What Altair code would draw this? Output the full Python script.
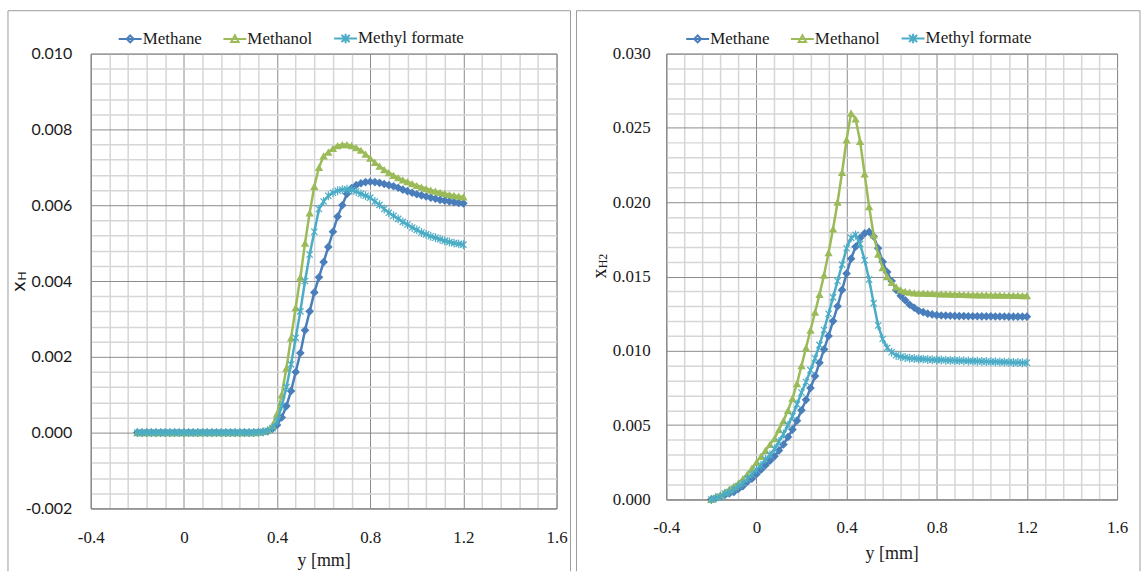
import altair as alt
import pandas as pd

SERIES = ["Methane", "Methanol", "Methyl formate"]
COLORS = ["#4a7ebb", "#9bbb59", "#4bacc6"]

Y_MM = [-0.2, -0.18, -0.16, -0.14, -0.12, -0.1, -0.08, -0.06, -0.04, -0.02,
        0.0, 0.02, 0.04, 0.06, 0.08, 0.1, 0.12, 0.14, 0.16, 0.18,
        0.2, 0.22, 0.24, 0.26, 0.28, 0.3, 0.32, 0.34, 0.36, 0.38,
        0.4, 0.42, 0.44, 0.46, 0.48, 0.5, 0.52, 0.54, 0.56, 0.58,
        0.6, 0.62, 0.64, 0.66, 0.68, 0.7, 0.72, 0.74, 0.76, 0.78,
        0.8, 0.82, 0.84, 0.86, 0.88, 0.9, 0.92, 0.94, 0.96, 0.98,
        1.0, 1.02, 1.04, 1.06, 1.08, 1.1, 1.12, 1.14, 1.16, 1.18, 1.2]

# Left panel: x_H
XH_METHANE = [0, 0, 0, 0, 0, 0, 0, 0, 0, 0,
              0, 0, 0, 0, 0, 0, 0, 0, 0, 0,
              0, 0, 0, 0, 0, 0, 0.00001, 0.00002, 0.00004, 0.0001,
              0.0002, 0.0004, 0.0007, 0.0011, 0.0016, 0.0021, 0.0027, 0.0032, 0.0037, 0.0041,
              0.0045, 0.0049, 0.0053, 0.0057, 0.0060, 0.0063, 0.00645, 0.00653, 0.00658, 0.00661,
              0.00662, 0.00661, 0.00659, 0.00656, 0.00653, 0.0065, 0.00646, 0.00641, 0.00637, 0.00633,
              0.00629, 0.00626, 0.00623, 0.0062, 0.00617, 0.00614, 0.00612, 0.0061, 0.00608, 0.00606, 0.00605]
XH_METHANOL = [0, 0, 0, 0, 0, 0, 0, 0, 0, 0,
               0, 0, 0, 0, 0, 0, 0, 0, 0, 0,
               0, 0, 0, 0, 0, 0, 0.00001, 0.00003, 0.00008, 0.0002,
               0.0005, 0.0010, 0.0017, 0.0025, 0.0033, 0.0041, 0.0050, 0.0058, 0.0065, 0.0070,
               0.0073, 0.0074, 0.0075, 0.00757, 0.0076, 0.0076, 0.00757, 0.00752, 0.00745, 0.00735,
               0.00724, 0.00713, 0.00703, 0.00694, 0.00686, 0.00679, 0.00673, 0.00667, 0.00662, 0.00657,
               0.00652, 0.00648, 0.00644, 0.0064, 0.00637, 0.00634, 0.00631, 0.00628, 0.00626, 0.00624, 0.00622]
XH_MF = [0, 0, 0, 0, 0, 0, 0, 0, 0, 0,
         0, 0, 0, 0, 0, 0, 0, 0, 0, 0,
         0, 0, 0, 0, 0, 0, 0.00001, 0.00002, 0.00005, 0.00012,
         0.0003, 0.0007, 0.0012, 0.0018, 0.0025, 0.0032, 0.0040, 0.0047, 0.0053, 0.0059,
         0.0061, 0.00625, 0.00633, 0.00638, 0.00641, 0.00642, 0.0064, 0.00636, 0.0063, 0.00625,
         0.0062, 0.0061, 0.00601, 0.0059, 0.0058, 0.00572, 0.00564, 0.00556, 0.00549, 0.00541,
         0.00535, 0.00528, 0.00523, 0.00518, 0.00514, 0.0051, 0.00506, 0.00503, 0.005, 0.00498, 0.00496]

# Right panel: x_H2
XH2_METHANE = [0.0, 0.0001, 0.0002, 0.0003, 0.0004, 0.0005, 0.0007, 0.0009, 0.0012, 0.0014,
               0.0017, 0.0020, 0.0023, 0.0026, 0.0029, 0.0033, 0.0037, 0.0042, 0.0047, 0.0053,
               0.0060, 0.0067, 0.0075, 0.0083, 0.0092, 0.0101, 0.0110, 0.0120, 0.0130, 0.0141,
               0.0152, 0.0162, 0.0170, 0.0176, 0.0179, 0.0180, 0.0177, 0.0169, 0.0160, 0.0153,
               0.0147, 0.0141, 0.0137, 0.0134, 0.0131, 0.0129, 0.0127, 0.0126, 0.0125, 0.01245,
               0.0124, 0.01238, 0.01237, 0.01236, 0.01235, 0.01234, 0.01234, 0.01233, 0.01233, 0.01233,
               0.01232, 0.01232, 0.01232, 0.01231, 0.01231, 0.01231, 0.0123, 0.0123, 0.0123, 0.0123, 0.0123]
XH2_METHANOL = [0.0, 0.0002, 0.0003, 0.0005, 0.0007, 0.0009, 0.0011, 0.0014, 0.0017, 0.0021,
                0.0025, 0.0029, 0.0033, 0.0037, 0.0041, 0.0047, 0.0053, 0.0060, 0.0068, 0.0078,
                0.0090, 0.0102, 0.0114, 0.0126, 0.0138, 0.0151, 0.0166, 0.0182, 0.0200, 0.0220,
                0.0242, 0.0260, 0.0256, 0.0241, 0.0219, 0.0197, 0.0178, 0.0165, 0.0156, 0.0150,
                0.0146, 0.0143, 0.0141, 0.0140, 0.01395, 0.0139, 0.01389, 0.01388, 0.01387, 0.01386,
                0.01385, 0.01384, 0.01383, 0.01382, 0.01381, 0.0138, 0.01379, 0.01378, 0.01378, 0.01377,
                0.01377, 0.01376, 0.01376, 0.01375, 0.01375, 0.01374, 0.01374, 0.01373, 0.01373, 0.01372, 0.01372]
XH2_MF = [0.0, 0.0001, 0.0002, 0.0004, 0.0005, 0.0007, 0.0009, 0.0011, 0.0014, 0.0017,
          0.0020, 0.0023, 0.0027, 0.0030, 0.0034, 0.0039, 0.0044, 0.0050, 0.0056, 0.0064,
          0.0072, 0.0079, 0.0087, 0.0095, 0.0104, 0.0114, 0.0125, 0.0136, 0.0147, 0.0158,
          0.0169, 0.0176, 0.0178, 0.0172, 0.0161, 0.0148, 0.0132, 0.0117, 0.0108, 0.0102,
          0.0099, 0.0097, 0.0096, 0.00955, 0.0095, 0.00948, 0.00946, 0.00944, 0.00942, 0.0094,
          0.00939, 0.00938, 0.00937, 0.00936, 0.00935, 0.00934, 0.00933, 0.00932, 0.00931, 0.0093,
          0.00929, 0.00928, 0.00927, 0.00926, 0.00925, 0.00924, 0.00923, 0.00922, 0.00921, 0.0092, 0.0092]

X_DOMAIN = [-0.4, 1.6]
X_MAJOR_STEP = 0.4
X_MINOR = [round(-0.4 + 0.08 * i, 2) for i in range(26)]
YH_DOMAIN = [-0.002, 0.010]
YH_MINOR = [round(-0.002 + 0.0004 * i, 4) for i in range(31)]
YH2_DOMAIN = [0.0, 0.030]
YH2_MINOR = [round(0.001 * i, 3) for i in range(31)]

SERIF = "Liberation Serif"
SANS = "Lato"
TXT = "#1a1a1a"
GRID_MAJOR = "#8c8c8c"
GRID_MINOR = "#d6d6d6"
FRAME = "#9c9c9c"

ASTERISK = "M-0.7,-0.7L0.7,0.7M-0.7,0.7L0.7,-0.7M0,-1L0,1"
MARKERS = [("diamond", True, 75), ("triangle-up", True, 70), (ASTERISK, False, 80)]
LEGEND_PATHS = [
    "M-1,0L1,0M0,-0.3L0.3,0L0,0.3L-0.3,0Z",
    "M-1,0L1,0M0,-0.32L0.32,0.26L-0.32,0.26Z",
    "M-1,0L1,0M-0.36,-0.3L0.36,0.3M-0.36,0.3L0.36,-0.3M0,-0.42L0,0.42",
]


def table(series_values):
    rows = []
    for name, vals in zip(SERIES, series_values):
        for x, v in zip(Y_MM, vals):
            rows.append({"y_mm": x, "value": v, "Series": name})
    return pd.DataFrame(rows)


def is_major(mult):
    return f"abs(datum.value*{mult} - round(datum.value*{mult})) < 1e-6"


def panel(series_values, ydomain, yminor, ymult, yfont, yfontsize, ylabelpad,
          width, height, xlabelpad, xtitley, ytitle_font, ytitle_x, ytitle_y,
          sub_text, sub_x, sub_y, leg_x, leg_y, frame):
    df = table(series_values)
    xscale = alt.Scale(domain=X_DOMAIN, nice=False, zero=False)
    yscale = alt.Scale(domain=ydomain, nice=False, zero=False)
    xm = is_major(round(1 / X_MAJOR_STEP, 6))
    ym = is_major(ymult)
    xaxis = alt.Axis(
        values=X_MINOR,
        labelExpr=f"{xm} ? ((datum.value < -1e-9 ? '-' : '') + format(abs(datum.value), '~g')) : ''",
        grid=True,
        gridColor={"condition": {"test": xm, "value": GRID_MAJOR}, "value": GRID_MINOR},
        gridWidth={"condition": {"test": xm, "value": 1}, "value": 1.5},
        ticks=False, tickSize=0, domainColor=GRID_MAJOR,
        labelFont=SERIF, labelFontSize=17, labelColor=TXT, labelPadding=xlabelpad,
        labelBaseline="middle", labelOverlap=False, labelFlush=False,
        title="y [mm]", titleFont=SERIF, titleFontSize=18, titleFontWeight="normal",
        titleColor=TXT, titleY=xtitley, titleBaseline="middle",
    )
    yaxis = alt.Axis(
        values=yminor,
        labelExpr=f"{ym} ? ((datum.value < -1e-9 ? '-' : '') + format(abs(datum.value), '.3f')) : ''",
        grid=True,
        gridColor={"condition": {"test": ym, "value": GRID_MAJOR}, "value": GRID_MINOR},
        gridWidth={"condition": {"test": ym, "value": 1}, "value": 1.5},
        ticks=False, tickSize=0, domainColor=GRID_MAJOR,
        labelFont=yfont, labelFontSize=yfontsize, labelColor=TXT, labelPadding=ylabelpad,
        labelOverlap=False, labelFlush=False,
        title="x", titleFont=ytitle_font, titleFontSize=20, titleFontWeight="normal",
        titleColor=TXT, titleAngle=270, titleX=ytitle_x, titleY=ytitle_y,
        titleAlign="center", titleBaseline="middle",
    )
    enc = dict(x=alt.X("y_mm:Q", scale=xscale, axis=xaxis),
               y=alt.Y("value:Q", scale=yscale, axis=yaxis))

    l, r, t, b = frame
    one = pd.DataFrame({"k": [0]})
    layers = [
        alt.Chart(one).mark_rule(color=FRAME, strokeWidth=1).encode(
            x=alt.value(l), y=alt.value(t), y2=alt.value(b)),
        alt.Chart(one).mark_rule(color=FRAME, strokeWidth=1).encode(
            x=alt.value(r), y=alt.value(t), y2=alt.value(b)),
        alt.Chart(one).mark_rule(color=FRAME, strokeWidth=1).encode(
            x=alt.value(l), x2=alt.value(r), y=alt.value(t)),
    ]
    for name, color, (shape, filled, size) in zip(SERIES, COLORS, MARKERS):
        base = alt.Chart(df).transform_filter(alt.datum.Series == name)
        layers.append(base.mark_line(color=color, strokeWidth=2.5).encode(**enc))
        layers.append(base.mark_point(shape=shape, filled=filled, size=size, color=color,
                                      opacity=1, strokeWidth=1.2).encode(**enc))

    leg = alt.Legend(title=None, orient="none", legendX=leg_x, legendY=leg_y,
                     direction="horizontal", labelFont=SERIF, labelFontSize=17,
                     labelColor=TXT, symbolSize=529, symbolStrokeWidth=2,
                     labelOffset=0, columnPadding=17, padding=0, symbolOpacity=1)
    layers.append(
        alt.Chart(df).mark_point(opacity=0, filled=False, strokeWidth=2).encode(
            **enc,
            color=alt.Color("Series:N", scale=alt.Scale(domain=SERIES, range=COLORS), legend=leg),
            shape=alt.Shape("Series:N", scale=alt.Scale(domain=SERIES, range=LEGEND_PATHS), legend=leg),
        )
    )
    layers.append(
        alt.Chart(pd.DataFrame({"t": [sub_text]})).mark_text(
            angle=270, font=ytitle_font, fontSize=12, align="center", baseline="middle",
            color=TXT).encode(text="t:N", x=alt.value(sub_x), y=alt.value(sub_y))
    )
    return alt.layer(*layers).properties(width=width, height=height)


left = panel([XH_METHANE, XH_METHANOL, XH_MF], YH_DOMAIN, YH_MINOR, 500, SANS, 16, 19,
             467, 456, 29, 52, SANS, -72, 233, "H", -69, 223, 27, -28,
             (-83, 481, -43, 519))
right = panel([XH2_METHANE, XH2_METHANOL, XH2_MF], YH2_DOMAIN, YH2_MINOR, 200, SERIF, 17, 16,
              452, 447, 28, 54, SERIF, -67, 220, "H2", -63, 208, 19, -28,
              (-90, 475, -43, 519))

chart = alt.hconcat(left, right, spacing=4).resolve_scale(
    color="independent", shape="independent"
).resolve_legend(
    color="independent", shape="independent"
).properties(
    padding={"left": 7, "top": 9, "right": 3, "bottom": 0},
    background="white",
).configure_view(stroke=GRID_MAJOR, strokeWidth=1)

chart.save("out.html", embed_options={"renderer": "svg", "actions": False})
